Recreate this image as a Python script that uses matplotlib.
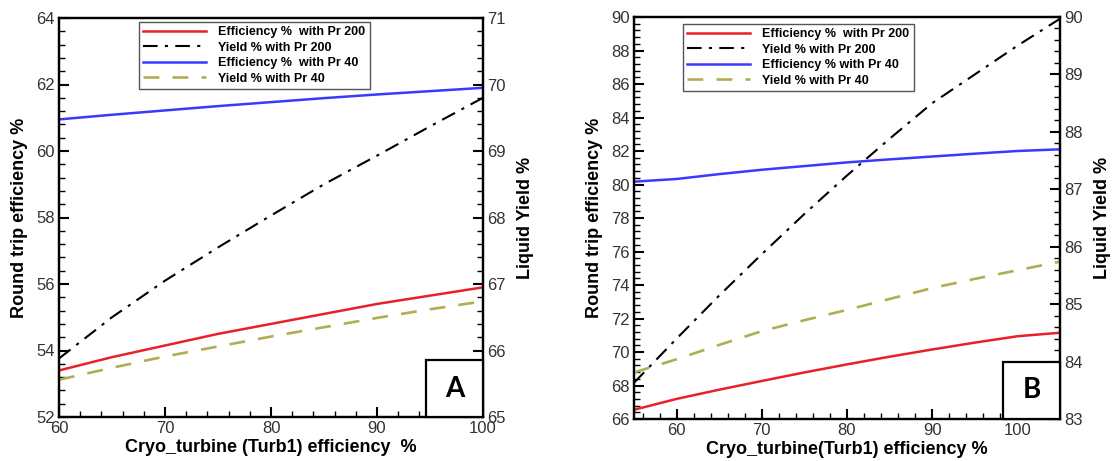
import matplotlib.pyplot as plt
from matplotlib.ticker import MultipleLocator, AutoMinorLocator
from matplotlib.patches import Rectangle

plt.rcParams['font.family'] = ['Liberation Sans', 'DejaVu Sans']

# Panel A: turbine efficiency 60-100 %
xa = [60, 65, 70, 75, 80, 85, 90, 95, 100]
eff_pr200_a = [53.4, 53.8, 54.15, 54.5, 54.8, 55.1, 55.4, 55.65, 55.9]
eff_pr40_a = [60.95, 61.09, 61.22, 61.35, 61.47, 61.59, 61.7, 61.8, 61.9]
yld_pr200_a = [65.88, 66.5, 67.05, 67.55, 68.03, 68.5, 68.93, 69.37, 69.8]
yld_pr40_a = [65.56, 65.74, 65.91, 66.06, 66.21, 66.35, 66.49, 66.62, 66.74]

# Panel B: turbine efficiency 55-105 %
xb = [55, 60, 65, 70, 75, 80, 85, 90, 95, 100, 105]
eff_pr200_b = [66.55, 67.2, 67.75, 68.27, 68.78, 69.26, 69.72, 70.15, 70.56, 70.94, 71.15]
eff_pr40_b = [80.17, 80.33, 80.62, 80.88, 81.1, 81.32, 81.5, 81.67, 81.84, 82.0, 82.1]
yld_pr200_b = [83.63, 84.4, 85.15, 85.87, 86.57, 87.24, 87.88, 88.5, 89.0, 89.5, 89.97]
yld_pr40_b = [83.81, 84.04, 84.29, 84.53, 84.72, 84.9, 85.09, 85.28, 85.44, 85.59, 85.74]

W, H = 1115, 461
fig = plt.figure(figsize=(W / 100, H / 100), dpi=100)

RED = '#e8202a'
BLUE = '#3a3aff'
OLIVE = '#b0ae52'
TICKC = '#333333'


def panel(rect_px, x, eff200, eff40, y200, y40, xlim, ylim, y2lim, ystep, xlabel,
          eff40_label, tag, legend_px):
    l, t, r, b = rect_px
    ax = fig.add_axes([l / W, 1 - b / H, (r - l) / W, (b - t) / H])
    ax2 = ax.twinx()

    ax.plot(x, eff200, color=RED, lw=1.8, label='Efficiency %  with Pr 200')
    ax.plot(x, eff40, color=BLUE, lw=1.8, label=eff40_label)
    ax2.plot(x, y200, color='black', lw=1.5, ls=(0, (7, 3.5, 1.5, 3.5)),
             label='Yield % with Pr 200')
    ax2.plot(x, y40, color=OLIVE, lw=1.9, ls=(0, (6, 5)), label='Yield % with Pr 40')

    ax.set_xlim(*xlim)
    ax.set_ylim(*ylim)
    ax2.set_ylim(*y2lim)
    ax.xaxis.set_major_locator(MultipleLocator(10))
    ax.xaxis.set_minor_locator(AutoMinorLocator(5))
    ax.yaxis.set_major_locator(MultipleLocator(ystep))
    ax.yaxis.set_minor_locator(AutoMinorLocator(5))
    ax2.yaxis.set_major_locator(MultipleLocator(1))
    ax2.yaxis.set_minor_locator(AutoMinorLocator(5))

    for a in (ax, ax2):
        for s in a.spines.values():
            s.set_linewidth(1.6)
        a.tick_params(which='major', direction='in', length=7, width=1.5,
                      labelsize=12, labelcolor=TICKC, pad=3)
        a.tick_params(which='minor', direction='in', length=4, width=1)
    ax.tick_params(top=False, right=False, which='both')

    ax.set_xlabel(xlabel, fontsize=13, fontweight='bold', labelpad=2)
    ax.set_ylabel('Round trip efficiency %', fontsize=13, fontweight='bold', labelpad=6)
    ax2.set_ylabel('Liquid Yield %', fontsize=13, fontweight='bold', labelpad=8)

    h1, l1 = ax.get_legend_handles_labels()
    h2, l2 = ax2.get_legend_handles_labels()
    handles = [h1[0], h2[0], h1[1], h2[1]]
    labels = [l1[0], l2[0], l1[1], l2[1]]
    lx, ly = legend_px
    leg = ax2.legend(handles, labels, loc='upper left',
                     bbox_to_anchor=(lx / W, 1 - ly / H), bbox_transform=fig.transFigure,
                     borderaxespad=0, fancybox=False, framealpha=1, edgecolor='#555555',
                     prop={'weight': 'bold', 'size': 9}, handlelength=5.0,
                     labelspacing=0.28, borderpad=0.35, handletextpad=1.0)
    leg.get_frame().set_linewidth(1.0)

    # corner tag box
    bx0 = 1 - 57 / (r - l)
    bh = 57 / (b - t)
    ax2.add_patch(Rectangle((bx0, 0), 1 - bx0, bh, transform=ax2.transAxes,
                            facecolor='white', edgecolor='black', lw=1.6, zorder=5,
                            clip_on=False))
    ax2.text(bx0 + (1 - bx0) / 2, bh / 2, tag, transform=ax2.transAxes, ha='center',
             va='center', fontsize=20, fontweight='bold', zorder=6,
             family=['Lato', 'DejaVu Sans'])


panel((59, 18, 483, 417), xa, eff_pr200_a, eff_pr40_a, yld_pr200_a, yld_pr40_a,
      (60, 100), (52, 64), (65, 71), 2, 'Cryo_turbine (Turb1) efficiency  %',
      'Efficiency %  with Pr 40', 'A', (139, 22))
panel((634, 17, 1060, 419), xb, eff_pr200_b, eff_pr40_b, yld_pr200_b, yld_pr40_b,
      (55, 105), (66, 90), (83, 90), 2, 'Cryo_turbine(Turb1) efficiency %',
      'Efficiency % with Pr 40', 'B', (683, 24))

fig.savefig('out.png', dpi=100)
